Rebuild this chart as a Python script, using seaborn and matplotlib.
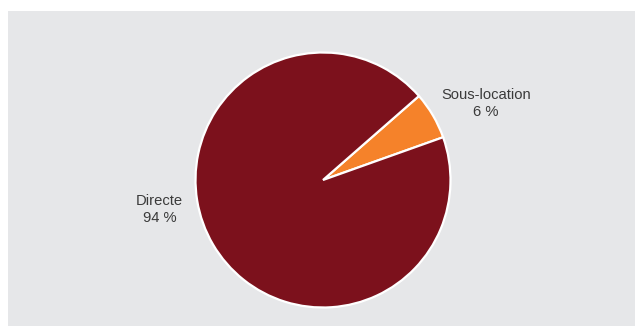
import matplotlib
matplotlib.use("Agg")
import matplotlib.pyplot as plt
from matplotlib.patches import Rectangle
import seaborn as sns
import numpy as np

# Répartition des surfaces par mode de location
categories = ["Sous-location", "Directe"]
shares = [6, 94]
label_texts = ["Sous-location\n6 %", "Directe\n94 %"]

colors = ["#F5822A", "#7C111C"]
panel_color = "#E6E7E9"

sns.set_theme(style="white")
plt.rcParams["font.family"] = ["Liberation Sans", "DejaVu Sans"]

W, H = 636, 326
fig = plt.figure(figsize=(W / 100, H / 100), dpi=100)
fig.patch.set_facecolor("white")

ax = fig.add_axes([0, 0, 1, 1])
ax.set_xlim(0, W)
ax.set_ylim(0, H)
ax.set_aspect("equal")
ax.axis("off")

# grey panel behind the chart
ax.add_patch(Rectangle((8, 0), W - 9, H - 11, facecolor=panel_color,
                       edgecolor="none", zorder=0))

cx, cy, r = 323, H - 180, 127.5
wedges, _ = ax.pie(shares, colors=colors, startangle=19.6, counterclock=True,
                   center=(cx, cy), radius=r, frame=True,
                   wedgeprops=dict(edgecolor="white", linewidth=1.6))
ax.set_xlim(0, W)
ax.set_ylim(0, H)
ax.axis("off")

# label offsets relative to the centre, in radius units
offsets = [(1.28, 0.60), (-1.28, -0.23)]
for txt, (dx, dy) in zip(label_texts, offsets):
    ax.text(cx + dx * r, cy + dy * r, txt, ha="center", va="center",
            fontsize=10.6, color="#3A3A3A", linespacing=1.25)

fig.savefig("out.png", dpi=100, facecolor=fig.get_facecolor())
